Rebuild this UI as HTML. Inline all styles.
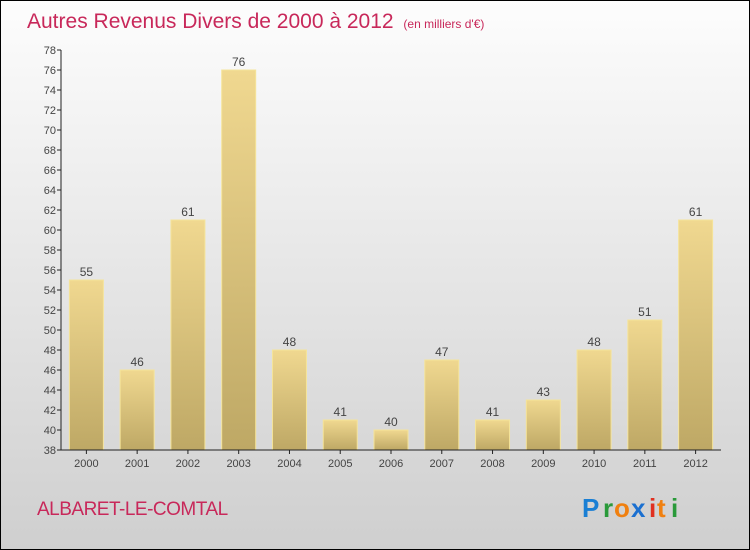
<!DOCTYPE html>
<html><head><meta charset="utf-8"><style>
body{margin:0;}
#c{position:relative;width:748px;height:548px;border:1px solid #000;background:linear-gradient(#fdfdfd,#cfcfcf);font-family:"Liberation Sans",sans-serif;overflow:hidden}
</style></head><body>
<div id="c">
<svg id="s" width="748" height="548" style="position:absolute;left:0;top:0">
<defs><linearGradient id="bg" x1="0" y1="0" x2="0" y2="1"><stop offset="0" stop-color="#f0d890"/><stop offset="1" stop-color="#bea865"/></linearGradient></defs>
<text x="26" y="27" font-size="21" fill="#c8285a">Autres Revenus Divers de 2000 à 2012 <tspan font-size="12" dx="4">(en milliers d'€)</tspan></text>
<text x="36" y="514" font-size="19" fill="#c8285a" letter-spacing="-0.5">ALBARET-LE-COMTAL</text>
<g font-size="26" font-weight="bold" font-family="'Liberation Sans',sans-serif">
<text x="581" y="516" fill="#1a7fd4">P</text><text x="602" y="516" fill="#2a9a3a">r</text><text x="613" y="516" fill="#f08010">o</text><text x="630" y="516" fill="#1a6fd0">x</text><text x="648" y="516" fill="#e03020">i</text><text x="656" y="516" fill="#f08010">t</text><text x="670" y="516" fill="#2a9a3a">i</text>
</g>
<g id="plot"></g>
</svg>
</div>
<script>
const years=["2000","2001","2002","2003","2004","2005","2006","2007","2008","2009","2010","2011","2012"];
const values=[55,46,61,76,48,41,40,47,41,43,48,51,61];
const yTicks=[38,40,42,44,46,48,50,52,54,56,58,60,62,64,66,68,70,72,74,76,78];
const X0=60,X1=720,Y0=449,Y1=49,YMIN=38,YMAX=78;
const y=v=>Y0-(v-YMIN)/(YMAX-YMIN)*(Y0-Y1);
const band=(X1-X0)/years.length;
const xc=i=>X0+band*(i+0.5);
const g=document.getElementById('plot');const NS="http://www.w3.org/2000/svg";
function mk(t,a){const e=document.createElementNS(NS,t);for(const k in a)e.setAttribute(k,a[k]);g.appendChild(e);return e;}
values.forEach((v,i)=>{
 const b=mk('rect',{x:xc(i)-17,y:y(v),width:34,height:Y0-y(v),fill:'url(#bg)',stroke:'#f5e49a','stroke-width':1});
 
 
 const t=mk('text',{x:xc(i),y:y(v)-4,'font-size':12,fill:'#444','text-anchor':'middle'});t.textContent=v;
 
 
 const xl=mk('text',{x:xc(i),y:466,'font-size':11,fill:'#444','text-anchor':'middle'});xl.textContent=years[i];
 
 
 const tk=mk('line',{x1:xc(i),x2:xc(i),y1:Y0,y2:Y0+4,stroke:'#222'});
 
 
});
yTicks.forEach(v=>{
 const l=mk('line',{x1:X0-4,x2:X0,y1:y(v),y2:y(v),stroke:'#222'});
 
 
 const t=mk('text',{x:X0-5,y:y(v)+4,'font-size':11,fill:'#444','text-anchor':'end'});t.textContent=v;
 
 
});
const ya=mk('line',{x1:X0,x2:X0,y1:Y1,y2:Y0,stroke:'#222'});


const xa=mk('line',{x1:X0,x2:X1,y1:Y0,y2:Y0,stroke:'#222'});


</script>
</body></html>
